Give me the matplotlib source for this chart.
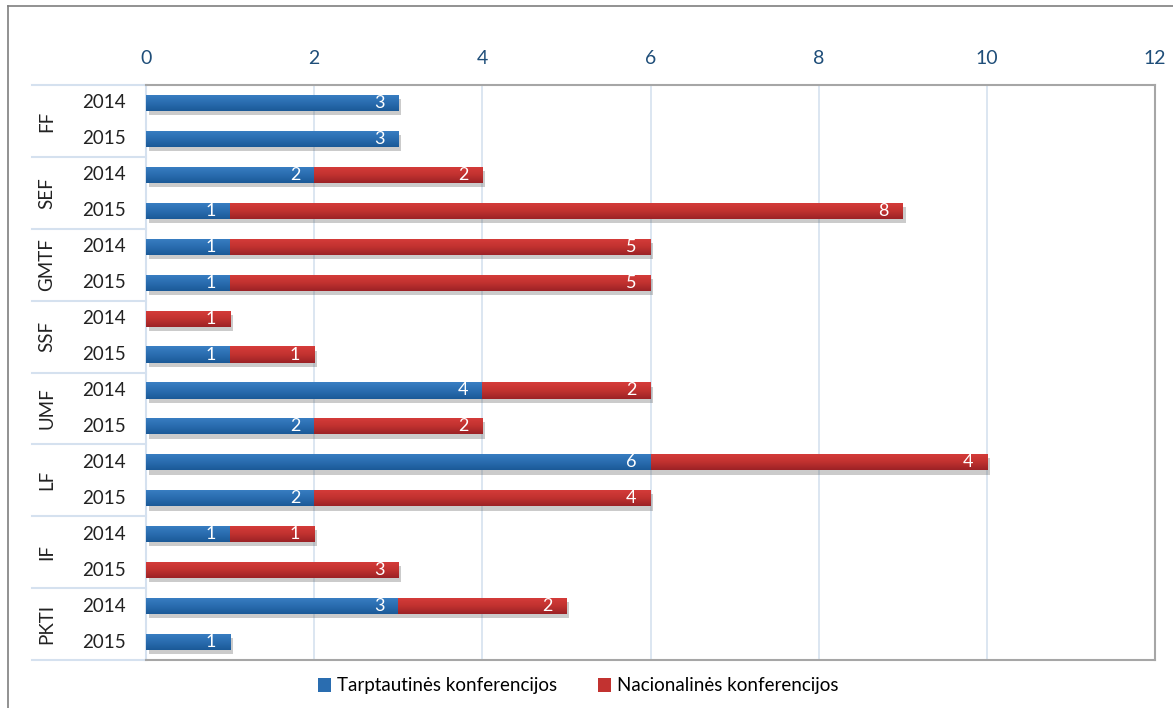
import matplotlib.pyplot as plt
import matplotlib.patheffects as pe
from matplotlib.colors import LinearSegmentedColormap
from matplotlib.lines import Line2D
from matplotlib.patches import Patch
import numpy as np

# data
faculties = ["FF", "SEF", "GMTF", "SSF", "UMF", "LF", "IF", "PKTI"]
years = ["2014", "2015"]
tarpt = [3, 3, 2, 1, 1, 1, 0, 1, 4, 2, 6, 2, 1, 0, 3, 1]
nacion = [0, 0, 2, 8, 5, 5, 1, 1, 2, 2, 4, 4, 1, 3, 2, 0]
legend_names = ["Tarptautinės konferencijos", "Nacionalinės konferencijos"]

plt.rcParams['font.family'] = ['Lato', 'DejaVu Sans']

blue = "#2a6db0"
red = "#c23230"
grid_c = "#d5e1ef"
blue_grad = LinearSegmentedColormap.from_list("bg", ["#3a7fc3", "#2a6db0", "#1b5a98"])
red_grad = LinearSegmentedColormap.from_list("rg", ["#d63c3a", "#c23230", "#9c2226"])

fig = plt.figure(figsize=(11.73, 7.08), dpi=100)
ax = fig.add_axes([146/1173, 1-660/708, 1009/1173, 575/708])

y = np.arange(len(tarpt))
shadow = [pe.SimplePatchShadow(offset=(2, -3), alpha=0.3, shadow_rgbFace="#555555"), pe.Normal()]
b1 = ax.barh(y, tarpt, height=0.45, color=blue, zorder=3)
b2 = ax.barh(y, nacion, left=tarpt, height=0.45, color=red, zorder=3)

# vertical gradient inside every bar, like the original
grad = np.linspace(0, 1, 50).reshape(-1, 1)
for bars, cmap in ((b1, blue_grad), (b2, red_grad)):
    for p in bars:
        if p.get_width() > 0:
            p.set_path_effects(shadow)
            x0, y0 = p.get_x(), p.get_y()
            im = ax.imshow(grad, cmap=cmap, aspect="auto", zorder=3.5,
                           extent=(x0, x0 + p.get_width(), y0, y0 + p.get_height()),
                           origin="lower")
            im.set_clip_path(p)

# value labels at inside end of each segment
for i in range(len(tarpt)):
    if tarpt[i] > 0:
        ax.annotate(str(tarpt[i]), (tarpt[i], i), xytext=(-19, 0), textcoords="offset pixels",
                    ha="center", va="center", color="white", fontsize=13, zorder=5)
    if nacion[i] > 0:
        ax.annotate(str(nacion[i]), (tarpt[i] + nacion[i], i), xytext=(-19, 0), textcoords="offset pixels",
                    ha="center", va="center", color="white", fontsize=13, zorder=5)

ax.set_xlim(0, 12)
ax.set_ylim(len(tarpt) - 0.5, -0.5)
ax.set_xticks(range(0, 13, 2))
ax.xaxis.tick_top()
ax.tick_params(axis="x", length=0, pad=13, labelsize=14, labelcolor="#1f4e79")
ax.set_yticks([])
ax.grid(axis="x", color=grid_c, lw=1.2, zorder=0)

for s in ("top", "right", "bottom"):
    ax.spines[s].set_color("#a6a6a6")
    ax.spines[s].set_linewidth(1.5)
ax.spines["left"].set_color(grid_c)
ax.spines["left"].set_linewidth(1.5)

# two level category labels on the left
trans = ax.get_yaxis_transform()
for i in range(len(tarpt)):
    ax.text(-42/1009, i, years[i % 2], transform=trans, ha="center", va="center",
            fontsize=13.5, color="#222222", clip_on=False)
for g, name in enumerate(faculties):
    ax.text(-99/1009, 2*g + 0.5, name, transform=trans, ha="center", va="center",
            rotation=90, fontsize=13.5, color="#222222", clip_on=False)
for g in range(len(faculties) + 1):
    ax.plot([-114/1009, 0], [2*g - 0.5]*2, transform=trans, color=grid_c, lw=1.5, clip_on=False)

handles = [Patch(facecolor=blue, label=legend_names[0]), Patch(facecolor=red, label=legend_names[1])]
fig.legend(handles=handles, loc="center", bbox_to_anchor=(578/1173, 1-686/708), ncol=2, frameon=False,
           fontsize=13.5, handlelength=0.7, handleheight=0.7, handletextpad=0.3, columnspacing=2.2)

# outer chart border
fig.add_artist(Line2D([8/1173, 8/1173], [0, 1-6/708], color="#7f7f7f", lw=1.2))
fig.add_artist(Line2D([8/1173, 1], [1-6/708, 1-6/708], color="#7f7f7f", lw=1.2))

fig.savefig("out.png", dpi=100, facecolor="white")
